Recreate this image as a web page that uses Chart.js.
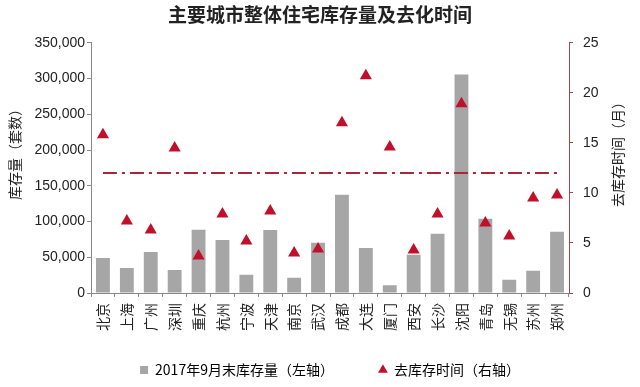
<!DOCTYPE html>
<html>
<head>
<meta charset="utf-8">
<script src="https://cdn.jsdelivr.net/npm/chart.js@4"></script>
<style>
  html, body { margin: 0; padding: 0; background: #fff; }
  #wrap { width: 640px; height: 387px; }
</style>
</head>
<body>
<div id="wrap"><canvas id="chart"></canvas></div>
<script>
// categories and values
const cities = ['北京', '上海', '广州', '深圳', '重庆', '杭州', '宁波', '天津', '南京', '武汉',
                '成都', '大连', '厦门', '西安', '长沙', '沈阳', '青岛', '无锡', '苏州', '郑州'];
const stock = [49000, 35000, 57400, 32200, 88600, 74200, 25600, 88200, 21400, 70400,
               137600, 63000, 10700, 53600, 83000, 305600, 104000, 18600, 31200, 85800];
const months = [15.8, 7.2, 6.3, 14.5, 3.7, 7.9, 5.2, 8.2, 4.0, 4.4,
                17.0, 21.7, 14.6, 4.3, 7.9, 18.9, 7.0, 5.7, 9.5, 9.8];
// average destocking time, dash-dot reference line
const avgMonths = [12, 12, 12, 12, 12, 12, 12, 12, 12, 12,
                   12, 12, 12, 12, 12, 12, 12, 12, 12, 12];

const titleText = '主要城市整体住宅库存量及去化时间';
const leftTitle = '库存量（套数）';
const rightTitle = '去库存时间（月）';
const stockLabel = '2017年9月末库存量（左轴）';
const monthsLabel = '去库存时间（右轴）';

const barColor = '#a6a6a6';
const triColor = '#c0102a';
const avgColor = '#a8283a';
const cjk = '"Noto Sans CJK SC", "Noto Sans", sans-serif';
const num = '"Liberation Sans", Arial, sans-serif';

// draws both axis titles rotated the same way (bottom to top)
const axisTitles = {
  id: 'axisTitles',
  afterDraw(chart) {
    const ctx = chart.ctx;
    const area = chart.chartArea;
    const cy = (area.top + area.bottom) / 2 - 17;
    ctx.save();
    ctx.fillStyle = '#222';
    ctx.font = '14px ' + cjk;
    ctx.textAlign = 'center';
    ctx.textBaseline = 'middle';
    [[chart.scales.y.left + 15, leftTitle], [chart.scales.y1.right - 22, rightTitle]].forEach(([x, t]) => {
      ctx.save();
      ctx.translate(x, cy);
      ctx.rotate(-Math.PI / 2);
      ctx.fillText(t, 0, 0);
      ctx.restore();
    });
    ctx.restore();
  }
};

const ctx = document.getElementById('chart').getContext('2d');
new Chart(ctx, {
  type: 'bar',
  data: {
    labels: cities,
    datasets: [
      {
        type: 'line',
        label: monthsLabel,
        data: months,
        yAxisID: 'y1',
        showLine: false,
        pointStyle: 'triangle',
        pointRadius: 7,
        pointBackgroundColor: triColor,
        pointBorderColor: triColor,
        pointBorderWidth: 0,
        order: 1
      },
      {
        type: 'line',
        label: 'avg',
        data: avgMonths,
        yAxisID: 'y1',
        borderColor: avgColor,
        borderWidth: 2,
        borderDash: [14, 5, 3, 5],
        pointRadius: 0,
        fill: false,
        order: 2
      },
      {
        label: stockLabel,
        data: stock,
        yAxisID: 'y',
        backgroundColor: barColor,
        categoryPercentage: 1,
        barPercentage: 0.58,
        order: 3
      }
    ]
  },
  options: {
    responsive: true,
    maintainAspectRatio: false,
    animation: false,
    layout: { padding: { left: 0, right: 0, top: 0, bottom: 0 } },
    plugins: {
      title: {
        display: true,
        text: titleText,
        color: '#222',
        font: { family: cjk, size: 19, weight: 'bold' },
        padding: { top: 3, bottom: 17 }
      },
      legend: {
        position: 'bottom',
        fullSize: false,
        labels: {
          color: '#222',
          font: { family: cjk, size: 14 },
          usePointStyle: true,
          boxWidth: 8,
          boxHeight: 8,
          padding: 10,
          generateLabels: () => [
            // ideographic spaces give the wide gap between the two entries
            { text: stockLabel + '\u3000\u3000\u3000', fillStyle: barColor, strokeStyle: barColor, lineWidth: 0, pointStyle: 'rect', datasetIndex: 2 },
            { text: monthsLabel, fillStyle: triColor, strokeStyle: triColor, lineWidth: 0, pointStyle: 'triangle', datasetIndex: 0 }
          ]
        }
      },
      tooltip: { enabled: false }
    },
    scales: {
      x: {
        offset: true,
        border: { color: '#888', width: 1 },
        grid: { display: true, drawOnChartArea: false, drawTicks: true, tickLength: 4, color: '#888', offset: true },
        ticks: {
          autoSkip: false,
          maxRotation: 90,
          minRotation: 90,
          padding: 6,
          color: '#222',
          font: { family: cjk, size: 14 }
        },
        afterFit: (scale) => { scale.height = 60; }
      },
      y: {
        position: 'left',
        min: 0,
        max: 350000,
        border: { color: '#888', width: 1 },
        grid: { drawOnChartArea: false, drawTicks: true, tickLength: 4, color: '#888' },
        ticks: {
          stepSize: 50000,
          padding: 2,
          color: '#222',
          font: { family: num, size: 14 },
          callback: (v) => v.toLocaleString('en-US')
        },
        afterFit: (scale) => { scale.width = 91; }
      },
      y1: {
        position: 'right',
        min: 0,
        max: 25,
        border: { color: '#9a4a4a', width: 1 },
        grid: { drawOnChartArea: false, drawTicks: true, tickLength: 4, color: '#9a4a4a' },
        ticks: {
          stepSize: 5,
          padding: 10,
          color: '#222',
          font: { family: num, size: 14 }
        },
        afterFit: (scale) => { scale.width = 71; }
      }
    }
  },
  plugins: [axisTitles]
});
</script>
</body>
</html>
